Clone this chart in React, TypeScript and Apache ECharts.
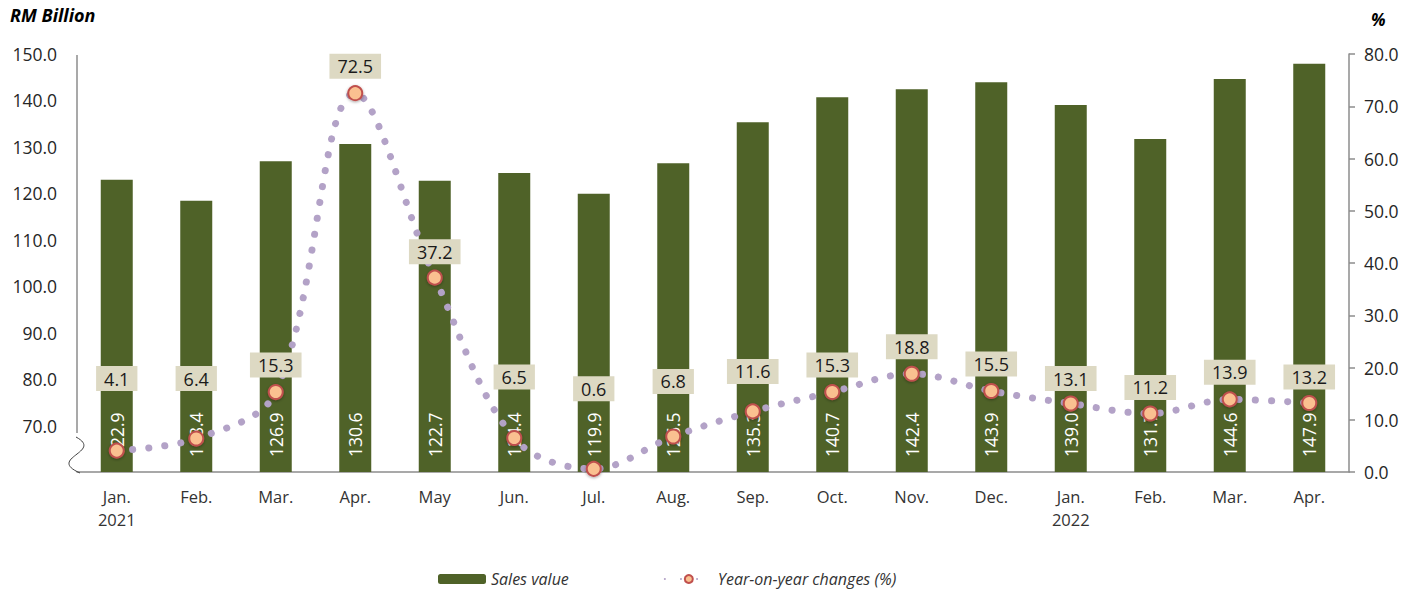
import React, { useEffect, useRef } from "react";
import * as echarts from "echarts";

const categories = [
  "Jan.\n2021", "Feb.", "Mar.", "Apr.", "May", "Jun.", "Jul.", "Aug.",
  "Sep.", "Oct.", "Nov.", "Dec.", "Jan.\n2022", "Feb.", "Mar.", "Apr.",
];
const salesValue = [
  122.9, 118.4, 126.9, 130.6, 122.7, 124.4, 119.9, 126.5,
  135.3, 140.7, 142.4, 143.9, 139.0, 131.7, 144.6, 147.9,
];
const yoyChange = [
  4.1, 6.4, 15.3, 72.5, 37.2, 6.5, 0.6, 6.8,
  11.6, 15.3, 18.8, 15.5, 13.1, 11.2, 13.9, 13.2,
];
// vertical offset (px) of each data label box above its marker
const labelLift = [-72, -60, -27, -27, -26, -61, -80, -55, -40, -27, -27, -27, -25, -26, -27, -26];

const FONT = "'Open Sans', 'Noto Sans', sans-serif";
const AXIS_GREY = "#8C8C8C";

export default function App() {
  const ref = useRef<HTMLDivElement>(null);

  useEffect(() => {
    if (!ref.current) return;
    const chart = echarts.init(ref.current, undefined, { renderer: "svg" });

    const option: any = {
      animation: false,
      textStyle: { fontFamily: FONT },
      grid: { left: 77, right: 59, top: 54, bottom: 123 },
      legend: {
        left: 433,
        bottom: 3,
        itemWidth: 48,
        itemHeight: 10,
        itemGap: 95,
        textStyle: { fontFamily: FONT, fontStyle: "italic", fontSize: 16, color: "#333" },
        data: ["Sales value", "Year-on-year changes (%)"],
      },
      xAxis: {
        type: "category",
        data: categories,
        axisLine: { show: true, lineStyle: { color: AXIS_GREY, width: 1.5 } },
        axisTick: { show: false },
        axisLabel: { color: "#333", fontSize: 16.5, margin: 13, lineHeight: 23, fontFamily: FONT },
      },
      yAxis: [
        {
          type: "value",
          min: 60,
          max: 150,
          interval: 10,
          axisLine: { show: false },
          axisTick: { show: false },
          splitLine: { show: false },
          axisLabel: {
            showMinLabel: false,
            margin: 20,
            fontSize: 17.5,
            color: "#262626",
            fontFamily: FONT,
            formatter: (v: number) => v.toFixed(1),
          },
        },
        {
          type: "value",
          min: 0,
          max: 80,
          interval: 10,
          position: "right",
          axisLine: { show: true, lineStyle: { color: AXIS_GREY, width: 1.5 } },
          axisTick: { show: true, length: 6, lineStyle: { color: AXIS_GREY, width: 1.5 } },
          splitLine: { show: false },
          axisLabel: {
            margin: 15,
            fontSize: 17.5,
            color: "#262626",
            fontFamily: FONT,
            formatter: (v: number) => v.toFixed(1),
          },
        },
      ],
      series: [
        {
          name: "Sales value",
          type: "bar",
          yAxisIndex: 0,
          data: salesValue,
          barWidth: 32,
          itemStyle: { color: "#4F6228" },
          z: 2,
          label: {
            show: true,
            position: "insideBottom",
            rotate: 90,
            align: "left",
            verticalAlign: "middle",
            distance: 15,
            color: "#ffffff",
            fontSize: 17.5,
            fontFamily: FONT,
            formatter: (p: any) => Number(p.value).toFixed(1),
          },
        },
        {
          name: "Year-on-year changes (%)",
          type: "line",
          yAxisIndex: 1,
          data: yoyChange.map((v, i) => ({
            value: v,
            label: { offset: [0, labelLift[i]] },
          })),
          smooth: 0.35,
          z: 3,
          symbol: "circle",
          symbolSize: 14,
          itemStyle: {
            color: "#FAC090",
            borderColor: "#C0504D",
            borderWidth: 2,
            shadowBlur: 3,
            shadowColor: "rgba(0,0,0,0.35)",
            shadowOffsetY: 1,
          },
          lineStyle: {
            color: "#B3A2C7",
            width: 7,
            type: [0.1, 16],
            cap: "round",
          },
          label: {
            show: true,
            position: "inside",
            color: "#1a1a1a",
            fontSize: 18,
            fontFamily: FONT,
            backgroundColor: "#DDD9C3",
            padding: [4, 8, 3, 8],
            formatter: (p: any) => Number(p.value).toFixed(1),
          },
        },
      ],
      graphic: [
        {
          type: "text",
          left: 10,
          top: 6,
          style: {
            text: "RM Billion",
            font: `italic bold 18px ${FONT}`,
            fill: "#000",
          },
        },
        {
          type: "text",
          left: 1371,
          top: 11,
          style: {
            text: "%",
            font: `italic bold 17px ${FONT}`,
            fill: "#000",
          },
        },
        {
          type: "line",
          shape: { x1: 77, y1: 55, x2: 77, y2: 433 },
          style: { stroke: AXIS_GREY, lineWidth: 1.5 },
        },
        {
          type: "bezierCurve",
          shape: { x1: 76, y1: 437, x2: 80, y2: 473, cpx1: 104, cpy1: 452, cpx2: 46, cpy2: 458 },
          style: { stroke: "#404040", lineWidth: 1, fill: null },
          z: 10,
        },
      ],
    };

    chart.setOption(option);
    return () => chart.dispose();
  }, []);

  return (
    <div
      ref={ref}
      style={{ position: "absolute", left: 0, top: 0, width: 1408, height: 595, background: "#fff" }}
    />
  );
}
